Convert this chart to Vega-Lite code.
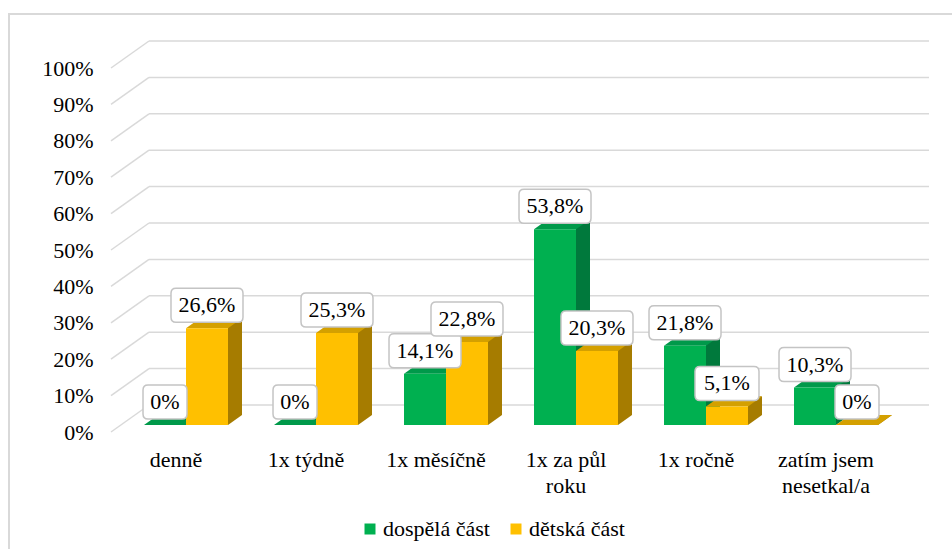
{
  "$schema": "https://vega.github.io/schema/vega-lite/v6.json",
  "autosize": "none",
  "width": 960,
  "height": 560,
  "padding": {"left": 9, "top": 14, "right": 0, "bottom": 0},
  "background": "white",
  "config": {
    "view": {"stroke": "#d9d9d9", "strokeWidth": 2},
    "font": "Liberation Serif, Times New Roman, DejaVu Serif, serif",
    "locale": {"number": {"decimal": ",", "thousands": " ", "grouping": [3], "currency": ["", " Kč"]}},
    "axis": {"labelFont": "Liberation Serif, Times New Roman, DejaVu Serif, serif", "labelFontSize": 22, "labelColor": "#000000"}
  },
  "datasets": {
    "odpovedi": [
      {"kategorie": "denně", "cast": "dospělá část", "podil": 0},
      {"kategorie": "denně", "cast": "dětská část", "podil": 0.266},
      {"kategorie": "1x týdně", "cast": "dospělá část", "podil": 0},
      {"kategorie": "1x týdně", "cast": "dětská část", "podil": 0.253},
      {"kategorie": "1x měsíčně", "cast": "dospělá část", "podil": 0.141},
      {"kategorie": "1x měsíčně", "cast": "dětská část", "podil": 0.228},
      {"kategorie": "1x za půl roku", "cast": "dospělá část", "podil": 0.538},
      {"kategorie": "1x za půl roku", "cast": "dětská část", "podil": 0.203},
      {"kategorie": "1x ročně", "cast": "dospělá část", "podil": 0.218},
      {"kategorie": "1x ročně", "cast": "dětská část", "podil": 0.051},
      {"kategorie": "zatím jsem nesetkal/a", "cast": "dospělá část", "podil": 0.103},
      {"kategorie": "zatím jsem nesetkal/a", "cast": "dětská část", "podil": 0}
    ],
    "mrizka": [
      {"hodnota": 0}, {"hodnota": 0.1}, {"hodnota": 0.2}, {"hodnota": 0.3},
      {"hodnota": 0.4}, {"hodnota": 0.5}, {"hodnota": 0.6}, {"hodnota": 0.7},
      {"hodnota": 0.8}, {"hodnota": 0.9}, {"hodnota": 1}
    ]
  },
  "data": {"name": "odpovedi"},
  "layer": [
    {
      "data": {"name": "mrizka"},
      "mark": {"type": "rule", "color": "#d9d9d9", "strokeWidth": 1.5, "xOffset": -37, "x2Offset": 93, "yOffset": -20},
      "encoding": {
        "x": {"datum": "denně", "type": "nominal", "axis": {"title": null}},
        "x2": {"datum": "zatím jsem nesetkal/a"},
        "y": {"field": "hodnota", "type": "quantitative", "axis": {"title": null}}
      }
    },
    {
      "data": {"name": "mrizka"},
      "mark": {"type": "rule", "color": "#d9d9d9", "strokeWidth": 1.5, "xOffset": -75, "x2Offset": -37, "yOffset": 7, "y2Offset": -20},
      "encoding": {
        "x": {"datum": "denně", "type": "nominal", "axis": {"title": null}},
        "x2": {"datum": "denně"},
        "y": {"field": "hodnota", "type": "quantitative", "axis": {"title": null}},
        "y2": {"field": "hodnota"}
      }
    },
    {
      "transform": [{"filter": "datum.cast === 'dospělá část'"}],
      "mark": {"type": "bar", "width": 14, "xOffset": 7, "yOffset": -10, "y2Offset": -10, "color": "#00793c"},
      "encoding": {
        "x": {"field": "kategorie", "type": "nominal", "axis": {"title": null}},
        "y": {"field": "podil", "type": "quantitative", "axis": {"title": null}},
        "y2": {"datum": 0}
      }
    },
    {
      "transform": [{"filter": "datum.cast === 'dětská část'"}],
      "mark": {"type": "bar", "width": 14, "xOffset": 49, "yOffset": -10, "y2Offset": -10, "color": "#a67c00"},
      "encoding": {
        "x": {"field": "kategorie", "type": "nominal", "axis": {"title": null}},
        "y": {"field": "podil", "type": "quantitative", "axis": {"title": null}},
        "y2": {"datum": 0}
      }
    },
    {
      "transform": [{"filter": "datum.cast === 'dospělá část'"}],
      "mark": {"type": "point", "shape": "M1.5,-0.7143L2.5,-0.7143L1.5,0Z", "size": 784, "filled": true, "opacity": 1, "strokeWidth": 0, "xOffset": -21, "color": "#00793c"},
      "encoding": {
        "x": {"field": "kategorie", "type": "nominal", "axis": {"title": null}},
        "y": {"datum": 0, "type": "quantitative", "axis": {"title": null}}
      }
    },
    {
      "transform": [{"filter": "datum.cast === 'dětská část'"}],
      "mark": {"type": "point", "shape": "M1.5,-0.7143L2.5,-0.7143L1.5,0Z", "size": 784, "filled": true, "opacity": 1, "strokeWidth": 0, "xOffset": 21, "color": "#a67c00"},
      "encoding": {
        "x": {"field": "kategorie", "type": "nominal", "axis": {"title": null}},
        "y": {"datum": 0, "type": "quantitative", "axis": {"title": null}}
      }
    },
    {
      "transform": [{"filter": "datum.cast === 'dospělá část'"}],
      "mark": {"type": "point", "shape": "M-1.5,0L1.5,0L2.5,-0.7143L-0.5,-0.7143Z", "size": 784, "filled": true, "opacity": 1, "strokeWidth": 0, "xOffset": -21, "color": "#00994a"},
      "encoding": {
        "x": {"field": "kategorie", "type": "nominal", "axis": {"title": null}},
        "y": {"field": "podil", "type": "quantitative", "axis": {"title": null}}
      }
    },
    {
      "transform": [{"filter": "datum.cast === 'dětská část'"}],
      "mark": {"type": "point", "shape": "M-1.5,0L1.5,0L2.5,-0.7143L-0.5,-0.7143Z", "size": 784, "filled": true, "opacity": 1, "strokeWidth": 0, "xOffset": 21, "color": "#d4a000"},
      "encoding": {
        "x": {"field": "kategorie", "type": "nominal", "axis": {"title": null}},
        "y": {"field": "podil", "type": "quantitative", "axis": {"title": null}}
      }
    },
    {
      "mark": {"type": "bar"},
      "encoding": {
        "x": {
          "field": "kategorie", "type": "nominal",
          "scale": {
            "domain": ["denně", "1x týdně", "1x měsíčně", "1x za půl roku", "1x ročně", "zatím jsem nesetkal/a"],
            "range": [112, 892], "paddingInner": 0.354, "paddingOuter": 0.177
          },
          "axis": {
            "orient": "bottom", "offset": -149, "title": null, "domain": false, "ticks": false, "grid": false,
            "bandPosition": 0.5,
            "labelAngle": 0, "labelAlign": "center", "labelPadding": 41, "labelBaseline": "alphabetic", "labelOffset": -10,
            "labelLineHeight": 26,
            "labelExpr": "datum.value == '1x za půl roku' ? ['1x za půl', 'roku'] : datum.value == 'zatím jsem nesetkal/a' ? ['zatím jsem', 'nesetkal/a'] : datum.value"
          }
        },
        "xOffset": {"field": "cast", "type": "nominal",
                    "scale": {"domain": ["dospělá část", "dětská část"], "paddingInner": 0, "paddingOuter": 0}},
        "y": {
          "field": "podil", "type": "quantitative",
          "scale": {"domain": [0, 1], "range": [411, 47], "nice": false},
          "axis": {
            "orient": "left", "offset": -112, "title": null, "domain": false, "ticks": false, "grid": false,
            "values": [0, 0.1, 0.2, 0.3, 0.4, 0.5, 0.6, 0.7, 0.8, 0.9, 1],
            "format": ".0%", "labelPadding": 28, "labelOffset": 7
          }
        },
        "y2": {"datum": 0},
        "color": {
          "field": "cast", "type": "nominal",
          "scale": {"domain": ["dospělá část", "dětská část"], "range": ["#00b050", "#ffc000"]},
          "legend": {
            "orient": "none", "legendX": 350, "legendY": 504, "direction": "horizontal", "title": null,
            "labelFont": "Liberation Serif, Times New Roman, DejaVu Serif, serif", "labelFontSize": 22, "labelColor": "#000000",
            "symbolType": "square", "symbolSize": 121, "symbolStrokeWidth": 0,
            "labelOffset": 2, "columnPadding": 15, "padding": 0
          }
        }
      }
    },
    {
      "transform": [{"filter": "datum.podil == 0"}],
      "mark": {"type": "point", "shape": "M-1.2143,-1.2143L1.2143,-1.2143Q1.5714,-1.2143 1.5714,-0.8571L1.5714,0.8571Q1.5714,1.2143 1.2143,1.2143L-1.2143,1.2143Q-1.5714,1.2143 -1.5714,0.8571L-1.5714,-0.8571Q-1.5714,-1.2143 -1.2143,-1.2143Z",
               "size": 784, "filled": true, "opacity": 1, "fill": "#ffffff", "stroke": "#c4c4c4", "strokeWidth": 1.5, "yOffset": -23},
      "encoding": {
        "x": {"field": "kategorie", "type": "nominal", "axis": {"title": null}},
        "xOffset": {"field": "cast", "type": "nominal"},
        "y": {"field": "podil", "type": "quantitative", "axis": {"title": null}}
      }
    },
    {
      "transform": [{"filter": "datum.podil > 0 && datum.podil < 0.1"}],
      "mark": {"type": "point", "shape": "M-1.9286,-1.2143L1.9286,-1.2143Q2.2857,-1.2143 2.2857,-0.8571L2.2857,0.8571Q2.2857,1.2143 1.9286,1.2143L-1.9286,1.2143Q-2.2857,1.2143 -2.2857,0.8571L-2.2857,-0.8571Q-2.2857,-1.2143 -1.9286,-1.2143Z",
               "size": 784, "filled": true, "opacity": 1, "fill": "#ffffff", "stroke": "#c4c4c4", "strokeWidth": 1.5, "yOffset": -23},
      "encoding": {
        "x": {"field": "kategorie", "type": "nominal", "axis": {"title": null}},
        "xOffset": {"field": "cast", "type": "nominal"},
        "y": {"field": "podil", "type": "quantitative", "axis": {"title": null}}
      }
    },
    {
      "transform": [{"filter": "datum.podil >= 0.1"}],
      "mark": {"type": "point", "shape": "M-2.2143,-1.2143L2.2143,-1.2143Q2.5714,-1.2143 2.5714,-0.8571L2.5714,0.8571Q2.5714,1.2143 2.2143,1.2143L-2.2143,1.2143Q-2.5714,1.2143 -2.5714,0.8571L-2.5714,-0.8571Q-2.5714,-1.2143 -2.2143,-1.2143Z",
               "size": 784, "filled": true, "opacity": 1, "fill": "#ffffff", "stroke": "#c4c4c4", "strokeWidth": 1.5, "yOffset": -23},
      "encoding": {
        "x": {"field": "kategorie", "type": "nominal", "axis": {"title": null}},
        "xOffset": {"field": "cast", "type": "nominal"},
        "y": {"field": "podil", "type": "quantitative", "axis": {"title": null}}
      }
    },
    {
      "mark": {"type": "text", "font": "Liberation Serif, Times New Roman, DejaVu Serif, serif", "fontSize": 22, "color": "#000000", "baseline": "middle", "align": "center", "yOffset": -23},
      "encoding": {
        "x": {"field": "kategorie", "type": "nominal", "axis": {"title": null}},
        "xOffset": {"field": "cast", "type": "nominal"},
        "y": {"field": "podil", "type": "quantitative", "axis": {"title": null}},
        "text": {"field": "podil", "type": "quantitative", "format": ".1~%"}
      }
    }
  ]
}
